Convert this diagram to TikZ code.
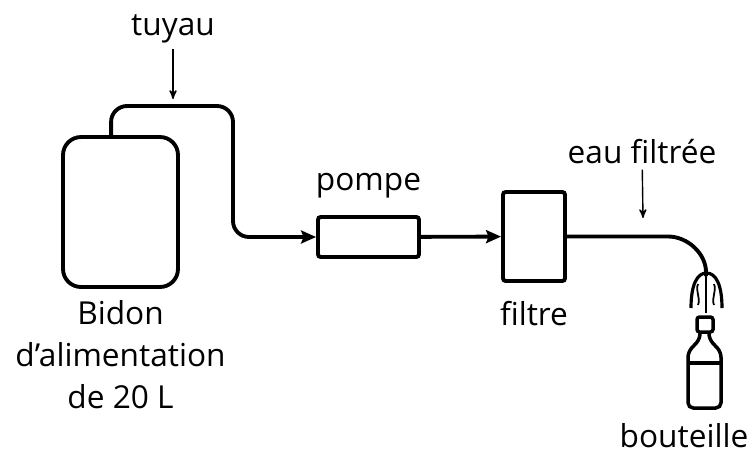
\documentclass[tikz,border=0pt]{standalone}
\usepackage{fontspec}
\setmainfont{Open Sans}
\usetikzlibrary{
  positioning,
  arrows,
  arrows.meta
}
\tikzset{
  >=stealth',
  every node/.style={font=\fontsize{18}{24}\selectfont},
  pipe/.style={line width=2.2pt, rounded corners=0.32cm},
  hose/.style={line width=2.2pt},
  flow/.style={-{Stealth[length=0.3cm, width=0.26cm, inset=0.05cm]}},
  unit/.style={draw, line width=2.2pt, rounded corners=1.5pt, inner sep=0pt},
  pointer/.style={->, line width=0.8pt},
  jet/.style={line width=1pt}
}

\begin{document}
\begin{tikzpicture}[x=0.02cm, y=-0.02cm]
    \useasboundingbox (0,0) rectangle (750,457);
    % tank, pump and filter
    \node[unit, rounded corners=0.36cm, minimum width=2.3cm, minimum height=3cm] (bidon) at (120.5,212) {};
    \node[unit, minimum width=2.02cm, minimum height=0.8cm] (pompe) at (368.5,237) {};
    \node[unit, minimum width=1.24cm, minimum height=1.78cm] (filtre) at (534,236.5) {};
    % labels
    \node[below=0.11cm of bidon, align=center] (bidonlbl) {Bidon\\d'alimentation\\de 20 L};
    \node[above=0.22cm of pompe] (pompelbl) {pompe};
    \node[below=0.25cm of filtre] (filtrelbl) {filtre};
    \node[anchor=base] (tuyau) at (173,35) {tuyau};
    \node[anchor=base] (eau) at (642,163) {eau filtrée};
    \node[anchor=base] (bouteille) at (684,447) {bouteille};
    \coordinate (coude) at (233,106);
    \coordinate (tuyaupt) at (173,99);
    \coordinate (eaupt) at (643,218);
    \coordinate (jet) at (706,276);
    % pipes
    \draw[pipe, flow] ([xshift=1cm]bidon.north west) |- (coude) |- (pompe.west);
    \draw[pipe, flow] (pompe) -- (filtre);
    \draw[hose] (filtre.east) -- (668,236.5) .. controls (688,236.5) and (706,254) .. (706,272) -- (jet);
    \draw[pointer] (tuyau) -- (tuyaupt);
    \draw[pointer] (eau) -- (eaupt);
    % water jet
    \draw[line width=1.8pt] (691,308) .. controls (691,285) and (697,273) .. (706.5,273) .. controls (716,273) and (722,285) .. (722,308);
    \draw[jet] (jet) -- (706,313);
    \draw[jet] (698,284) .. controls (695,291) and (701,298) .. (698,305);
    \draw[jet] (714,284) .. controls (717,291) and (711,298) .. (714,305);
    % bottle
    \draw[line width=2pt, rounded corners=1.5pt] (697,317) rectangle (713,332);
    \draw[line width=2pt, rounded corners=3pt] (700,332) -- (700,339) -- (688,352) -- (688,408) -- (721,408) -- (721,352) -- (709,339) -- (709,332);
    \draw[line width=2pt] (688,363) -- (721,363);
\end{tikzpicture}
\end{document}
